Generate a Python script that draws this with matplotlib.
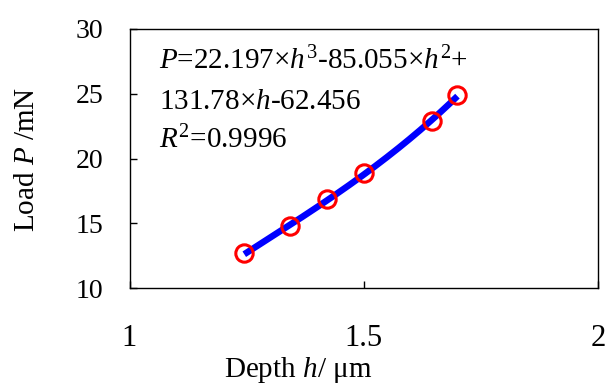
import numpy as np
import matplotlib
matplotlib.use("Agg")
import matplotlib.pyplot as plt

# Data
depth = [1.245, 1.343, 1.422, 1.500, 1.646, 1.700]
load = [12.69, 14.81, 16.87, 18.88, 22.88, 24.94]
coef = [22.197, -85.055, 131.78, -62.456]  # cubic fit shown on chart
xticks = [1, 1.5, 2]
xticklabels = ['1', '1.5', '2']
yticks = [10, 15, 20, 25, 30]

plt.rcParams['font.family'] = ['Liberation Serif', 'DejaVu Serif']
plt.rcParams['mathtext.fontset'] = 'custom'
plt.rcParams['mathtext.rm'] = 'Liberation Serif'
plt.rcParams['mathtext.it'] = 'Liberation Serif:italic'

fig = plt.figure(figsize=(6.05, 3.85), dpi=100)
ax = fig.add_axes([129.5/605, 1-288/385, 468.5/605, 259/385])

hfit = np.linspace(min(depth), max(depth), 200)
ax.plot(hfit, np.polyval(coef, hfit), color='#0000ff', lw=4.7, zorder=2,
        solid_capstyle='butt')
ax.plot(depth, load, 'o', ms=12.5, mfc='none', mec='#ff0000', mew=2.2, zorder=3)

ax.set_xlim(1, 2)
ax.set_ylim(10, 30)
ax.set_xticks(xticks)
ax.set_xticklabels(xticklabels)
ax.set_yticks(yticks)
ax.tick_params(direction='in', length=5, width=1)
ax.tick_params(axis='x', pad=26, labelsize=22)
ax.tick_params(axis='y', pad=19, labelsize=20)
for s in ax.spines.values():
    s.set_linewidth(1.0)

fig.text(298/605, 1-377/385, r'Depth $h$/ μm', ha='center', va='baseline', fontsize=21)
fig.text(27/605, 1-159/385, r'Load $P$ /mN', ha='center', va='center',
         rotation=90, fontsize=21)

fs = 21
x0 = 159/605
ax.text(x0, 1-69/385, r'$P$=22.197×$h^3$-85.055×$h^2$+', transform=fig.transFigure,
        fontsize=fs, va='baseline', ha='left')
ax.text(x0, 1-109/385, r'131.78×$h$-62.456', transform=fig.transFigure,
        fontsize=fs, va='baseline', ha='left')
ax.text(x0, 1-148/385, r'$R^2$=0.9996', transform=fig.transFigure,
        fontsize=fs, va='baseline', ha='left')

fig.savefig('out.png', dpi=100)
